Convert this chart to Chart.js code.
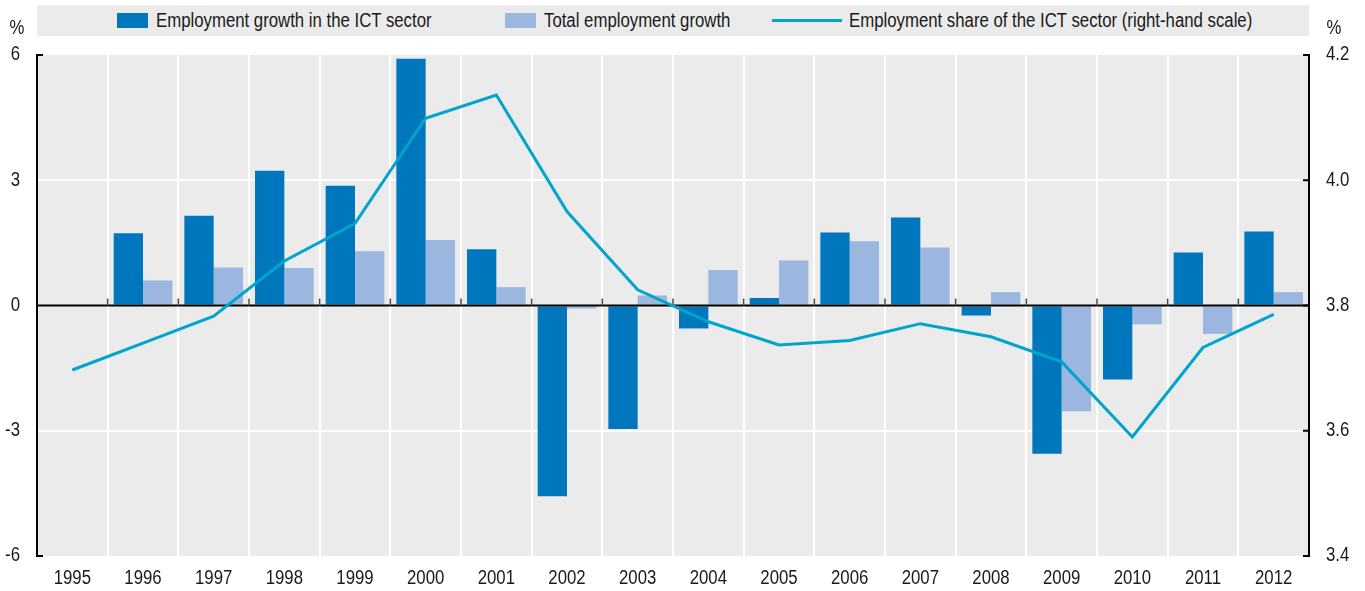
<!DOCTYPE html>
<html>
<head>
<meta charset="utf-8">
<script src="https://cdn.jsdelivr.net/npm/chart.js@4/dist/chart.umd.min.js"></script>
<style>
  html, body { margin: 0; padding: 0; background: #fff; }
  #wrap { position: relative; width: 1365px; height: 591px; }
  #legend { position: absolute; left: 37px; top: 5px; width: 1272px; height: 31px; background: #ebebeb;
    font-family: 'Liberation Sans', Arial, sans-serif; font-size: 19.5px; color: #1a1a1a; }
  .item { position: absolute; top: 0; height: 31px; display: flex; align-items: center; white-space: nowrap; }
  .box { flex: none; width: 31px; height: 15px; margin-right: 8px; }
  .ln { flex: none; width: 70px; height: 3px; margin-right: 7px; }
  .txt { display: inline-block; transform: scaleX(0.86); transform-origin: 0 50%; }
</style>
</head>
<body>
<div id="wrap">
  <canvas id="c" width="1365" height="591"></canvas>
  <div id="legend"></div>
</div>
<script>
const years = ['1995','1996','1997','1998','1999','2000','2001','2002','2003','2004','2005','2006','2007','2008','2009','2010','2011','2012'];
const ictGrowth   = [null, 1.73, 2.15, 3.23, 2.87, 5.91, 1.35, -4.57, -2.96, -0.55, 0.18, 1.75, 2.11, -0.24, -3.55, -1.77, 1.27, 1.77];
const totalGrowth = [null, 0.60, 0.91, 0.90, 1.30, 1.57, 0.44, -0.07, 0.24, 0.85, 1.08, 1.54, 1.39, 0.32, -2.53, -0.45, -0.68, 0.32];
const ictShare    = [3.697, 3.740, 3.783, 3.871, 3.931, 4.099, 4.136, 3.950, 3.825, 3.774, 3.737, 3.744, 3.771, 3.750, 3.710, 3.590, 3.733, 3.786];
const leftTicks  = [-6, -3, 0, 3, 6];
const rightTicks = [3.4, 3.6, 3.8, 4.0, 4.2];
const seriesNames = ['Employment growth in the ICT sector', 'Total employment growth', 'Employment share of the ICT sector (right-hand scale)'];
const unitLabel = '%';

const COL_ICT = '#0077bd';
const COL_TOT = '#9bb7e0';
const COL_LINE = '#00a5cd';
const FONT = "'Liberation Sans', Arial, sans-serif";
const FSIZE = 19.5;
const SX = 0.86; // horizontal condensing of text

// HTML legend
const legendDefs = [
  { left: 80, kind: 'box', color: COL_ICT, text: seriesNames[0] },
  { left: 468, kind: 'box', color: COL_TOT, text: seriesNames[1] },
  { left: 735, kind: 'ln', color: COL_LINE, text: seriesNames[2] }
];
const lg = document.getElementById('legend');
legendDefs.forEach(d => {
  const it = document.createElement('div');
  it.className = 'item';
  it.style.left = d.left + 'px';
  const sw = document.createElement('span');
  sw.className = d.kind;
  sw.style.background = d.color;
  const tx = document.createElement('span');
  tx.className = 'txt';
  tx.textContent = d.text;
  it.appendChild(sw); it.appendChild(tx);
  lg.appendChild(it);
});

// condensed text on the canvas
const canvas = document.getElementById('c');
const c2d = canvas.getContext('2d');
const origFill = c2d.fillText.bind(c2d);
c2d.fillText = function (t, x, y, mw) {
  this.save();
  this.translate(x, y);
  this.scale(SX, 1);
  if (mw === undefined) origFill(t, 0, 0); else origFill(t, 0, 0, mw / SX);
  this.restore();
};

const bgPlugin = {
  id: 'bg',
  beforeDraw(chart) {
    const { ctx, chartArea: a } = chart;
    ctx.save();
    ctx.fillStyle = '#ebebeb';
    ctx.fillRect(a.left, a.top, a.right - a.left, a.bottom - a.top);
    ctx.restore();
  }
};

const zeroPlugin = {
  id: 'zero',
  afterDatasetDraw(chart, args) {
    if (args.index !== 1) return;
    const { ctx, chartArea: a, scales } = chart;
    const y0 = scales.y.getPixelForValue(0);
    ctx.save();
    ctx.strokeStyle = '#000';
    ctx.lineWidth = 2;
    ctx.beginPath();
    ctx.moveTo(a.left, y0);
    ctx.lineTo(a.right, y0);
    ctx.stroke();
    ctx.strokeStyle = '#4d4d4d';
    ctx.lineWidth = 1.5;
    for (let i = 1; i < years.length; i++) {
      const x = (scales.x.getPixelForValue(i - 1) + scales.x.getPixelForValue(i)) / 2;
      ctx.beginPath();
      ctx.moveTo(x, y0 - 7);
      ctx.lineTo(x, y0);
      ctx.stroke();
    }
    ctx.restore();
  }
};

const axesPlugin = {
  id: 'axesDeco',
  afterDraw(chart) {
    const { ctx, chartArea: a, scales } = chart;
    ctx.save();
    ctx.strokeStyle = '#000';
    ctx.lineWidth = 2;
    [scales.y.getPixelForValue(6), scales.y.getPixelForValue(-6)].forEach(y => {
      ctx.beginPath(); ctx.moveTo(a.left - 1, y); ctx.lineTo(a.left + 6, y); ctx.stroke();
    });
    rightTicks.forEach(v => {
      const y = scales.y1.getPixelForValue(v);
      ctx.beginPath(); ctx.moveTo(a.right + 1, y); ctx.lineTo(a.right - 6, y); ctx.stroke();
    });
    ctx.fillStyle = '#1a1a1a';
    ctx.font = FSIZE + 'px ' + FONT;
    ctx.textAlign = 'center';
    ctx.textBaseline = 'middle';
    ctx.fillText(unitLabel, 17, 29);
    ctx.fillText(unitLabel, 1334, 29);
    ctx.restore();
  }
};

new Chart(canvas, {
  data: {
    labels: years,
    datasets: [
      { type: 'line', label: seriesNames[2], data: ictShare, yAxisID: 'y1', borderColor: COL_LINE, borderWidth: 3,
        pointRadius: 0, tension: 0, fill: false },
      { type: 'bar', label: seriesNames[0], data: ictGrowth, yAxisID: 'y', backgroundColor: COL_ICT,
        categoryPercentage: 0.83, barPercentage: 1.0 },
      { type: 'bar', label: seriesNames[1], data: totalGrowth, yAxisID: 'y', backgroundColor: COL_TOT,
        categoryPercentage: 0.83, barPercentage: 1.0 }
    ]
  },
  options: {
    responsive: false,
    animation: false,
    devicePixelRatio: 1,
    layout: { padding: { top: 55, left: 0, right: 0, bottom: 0 } },
    plugins: { legend: { display: false }, tooltip: { enabled: false } },
    scales: {
      x: {
        type: 'category',
        offset: true,
        grid: { color: '#ffffff', lineWidth: 2, offset: true, drawTicks: false },
        border: { display: false },
        ticks: { color: '#1a1a1a', font: { family: FONT, size: FSIZE }, padding: 11, maxRotation: 0, autoSkip: false },
        afterFit(s) { s.height = 35; }
      },
      y: {
        position: 'left',
        min: -6, max: 6,
        afterBuildTicks(s) { s.ticks = leftTicks.map(v => ({ value: v })); },
        ticks: { color: '#1a1a1a', font: { family: FONT, size: FSIZE }, padding: 17, callback: v => String(v) },
        grid: { drawTicks: false, lineWidth: 2,
          color: c => (c.tick && (c.tick.value === 3 || c.tick.value === -3)) ? '#ffffff' : 'rgba(0,0,0,0)' },
        border: { display: true, color: '#000', width: 2 },
        afterFit(s) { s.width = 37; }
      },
      y1: {
        position: 'right',
        min: 3.4, max: 4.2,
        afterBuildTicks(s) { s.ticks = rightTicks.map(v => ({ value: v })); },
        ticks: { color: '#1a1a1a', font: { family: FONT, size: FSIZE }, padding: 17, callback: v => Number(v).toFixed(1) },
        grid: { display: false, drawTicks: false },
        border: { display: true, color: '#000', width: 2 },
        afterFit(s) { s.width = 56; }
      }
    }
  },
  plugins: [bgPlugin, zeroPlugin, axesPlugin]
});
</script>
</body>
</html>
